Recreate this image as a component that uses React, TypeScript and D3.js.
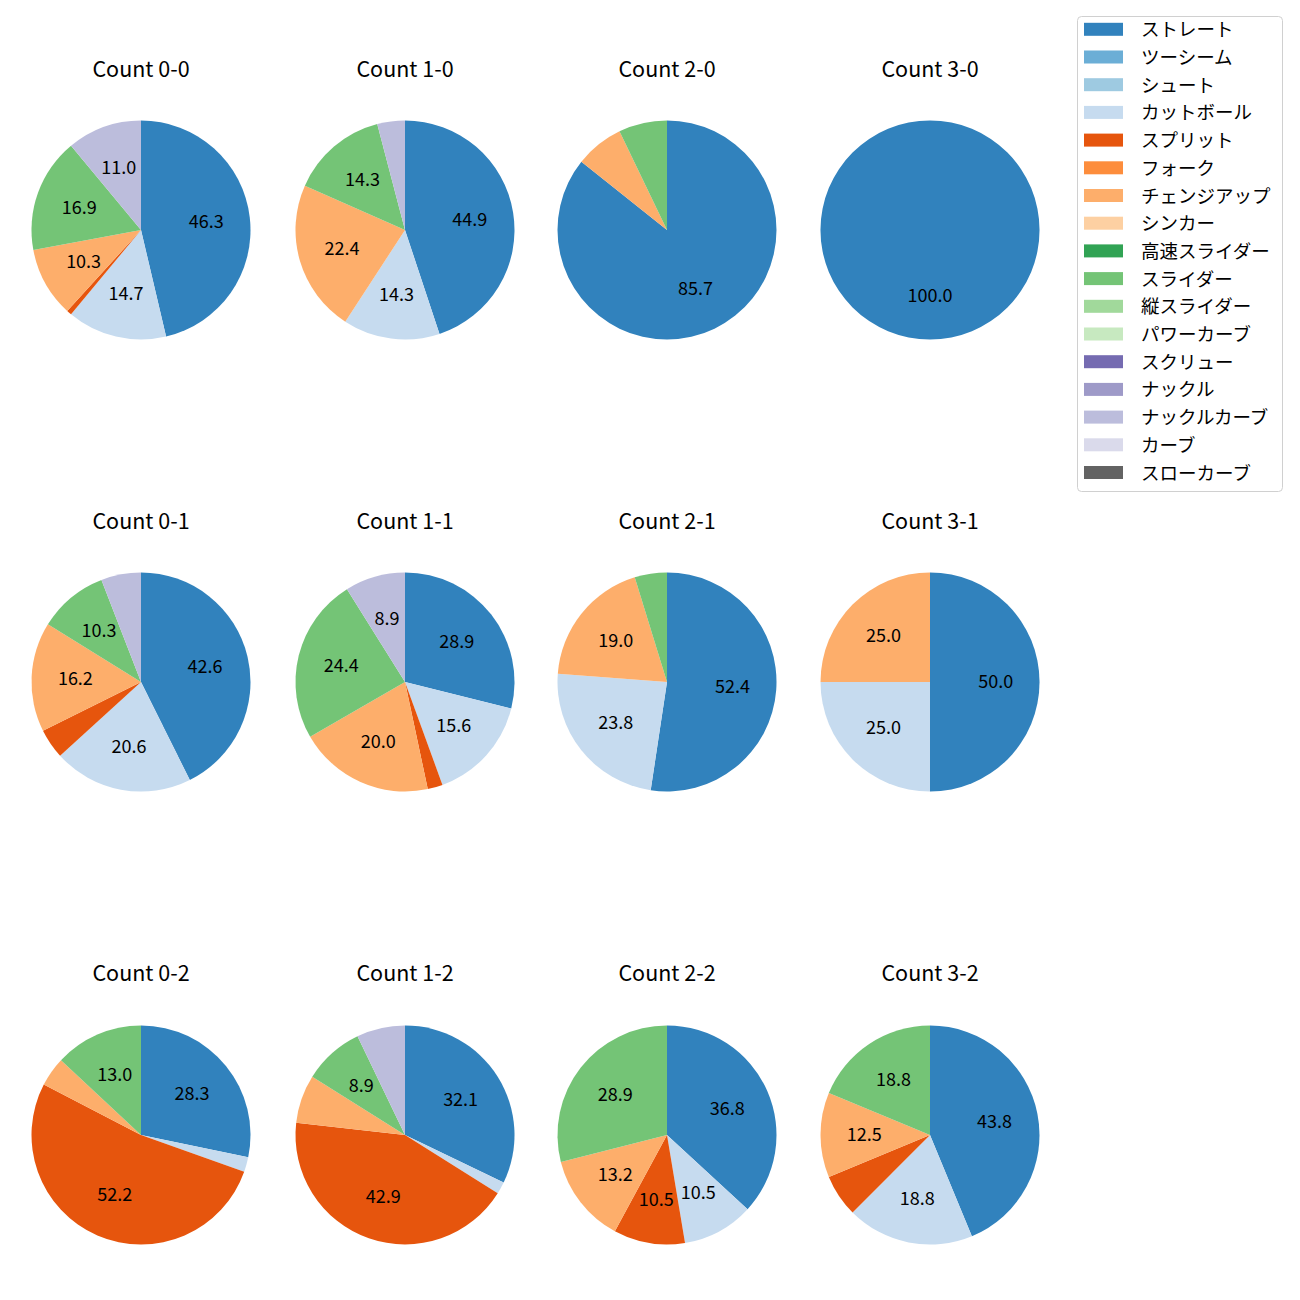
import React from "react";
import * as d3 from "d3";

const pitchTypes = [
  "ストレート", "ツーシーム", "シュート", "カットボール", "スプリット", "フォーク",
  "チェンジアップ", "シンカー", "高速スライダー", "スライダー", "縦スライダー",
  "パワーカーブ", "スクリュー", "ナックル", "ナックルカーブ", "カーブ", "スローカーブ",
];
const pitchColors = [
  "#3182bd", "#6baed6", "#9ecae1", "#c6dbef", "#e6550d", "#fd8d3c",
  "#fdae6b", "#fdd0a2", "#31a354", "#74c476", "#a1d99b",
  "#c7e9c0", "#756bb1", "#9e9ac8", "#bcbddc", "#dadaeb", "#636363",
];

const countTitles = [
  "Count 0-0", "Count 1-0", "Count 2-0", "Count 3-0",
  "Count 0-1", "Count 1-1", "Count 2-1", "Count 3-1",
  "Count 0-2", "Count 1-2", "Count 2-2", "Count 3-2",
];

// pitch counts per count situation: [pitchType, count]
const count00: [string, number][] = [["ストレート", 63], ["カットボール", 20], ["スプリット", 1], ["チェンジアップ", 14], ["スライダー", 23], ["ナックルカーブ", 15]];
const count10: [string, number][] = [["ストレート", 22], ["カットボール", 7], ["チェンジアップ", 11], ["スライダー", 7], ["ナックルカーブ", 2]];
const count20: [string, number][] = [["ストレート", 12], ["チェンジアップ", 1], ["スライダー", 1]];
const count30: [string, number][] = [["ストレート", 1]];
const count01: [string, number][] = [["ストレート", 29], ["カットボール", 14], ["スプリット", 3], ["チェンジアップ", 11], ["スライダー", 7], ["ナックルカーブ", 4]];
const count11: [string, number][] = [["ストレート", 13], ["カットボール", 7], ["スプリット", 1], ["チェンジアップ", 9], ["スライダー", 11], ["ナックルカーブ", 4]];
const count21: [string, number][] = [["ストレート", 11], ["カットボール", 5], ["チェンジアップ", 4], ["スライダー", 1]];
const count31: [string, number][] = [["ストレート", 2], ["カットボール", 1], ["チェンジアップ", 1]];
const count02: [string, number][] = [["ストレート", 13], ["カットボール", 1], ["スプリット", 24], ["チェンジアップ", 2], ["スライダー", 6]];
const count12: [string, number][] = [["ストレート", 18], ["カットボール", 1], ["スプリット", 24], ["チェンジアップ", 4], ["スライダー", 5], ["ナックルカーブ", 4]];
const count22: [string, number][] = [["ストレート", 14], ["カットボール", 4], ["スプリット", 4], ["チェンジアップ", 5], ["スライダー", 11]];
const count32: [string, number][] = [["ストレート", 7], ["カットボール", 3], ["スプリット", 1], ["チェンジアップ", 2], ["スライダー", 3]];

const allCounts = [count00, count10, count20, count30, count01, count11, count21, count31, count02, count12, count22, count32];

const FONT = "'Noto Sans CJK JP', 'Noto Sans', sans-serif";

export default function App() {
  const colX = [141, 405, 667, 930];
  const rowY = [230, 682, 1135];
  const titleY = [67, 519, 971];
  const R = 109.5;
  const color = d3.scaleOrdinal<string, string>().domain(pitchTypes).range(pitchColors);
  const pie = d3.pie<[string, number]>().value((d) => d[1]).sort(null).startAngle(0).endAngle(2 * Math.PI);
  const arc = d3.arc<d3.PieArcDatum<[string, number]>>().innerRadius(0).outerRadius(R);

  const legendTop = 29.3;
  const legendStep = 27.7;

  return (
    <svg width={1300} height={1300} style={{ display: "block", position: "absolute", left: 0, top: 0, background: "white" }} fontFamily={FONT}>
      <rect x={0} y={0} width={1300} height={1300} fill="white" />
      {allCounts.map((data, i) => {
        const cx = colX[i % 4];
        const cy = rowY[Math.floor(i / 4)];
        const ty = titleY[Math.floor(i / 4)];
        const total = d3.sum(data, (d) => d[1]);
        const arcs = pie(data);
        return (
          <g key={i}>
            <text x={cx} y={ty} textAnchor="middle" dominantBaseline="central" fontSize={21.5} fill="#000">{countTitles[i]}</text>
            <g transform={`translate(${cx},${cy})`}>
              {arcs.map((a, j) => (
                <path key={j} d={arc(a) || ""} fill={color(a.data[0])} />
              ))}
              {arcs.map((a, j) => {
                const pct = (a.data[1] / total) * 100;
                if (pct < 8) return null;
                const mid = (a.startAngle + a.endAngle) / 2;
                const lx = Math.sin(mid) * R * 0.6;
                const ly = -Math.cos(mid) * R * 0.6;
                return (
                  <text key={"t" + j} x={lx} y={ly - 2} textAnchor="middle" dominantBaseline="central" fontSize={18} fill="#000">{pct.toFixed(1)}</text>
                );
              })}
            </g>
          </g>
        );
      })}
      <rect x={1077.5} y={16.5} width={205} height={475} rx={4} fill="white" stroke="#d0d0d0" strokeWidth={1} />
      {pitchTypes.map((p, i) => {
        const y = legendTop + i * legendStep;
        return (
          <g key={p}>
            <rect x={1084} y={y - 6.5} width={39} height={13} fill={color(p)} />
            <text x={1141} y={y - 1} dominantBaseline="central" fontSize={18.5} fill="#000">{p}</text>
          </g>
        );
      })}
    </svg>
  );
}
